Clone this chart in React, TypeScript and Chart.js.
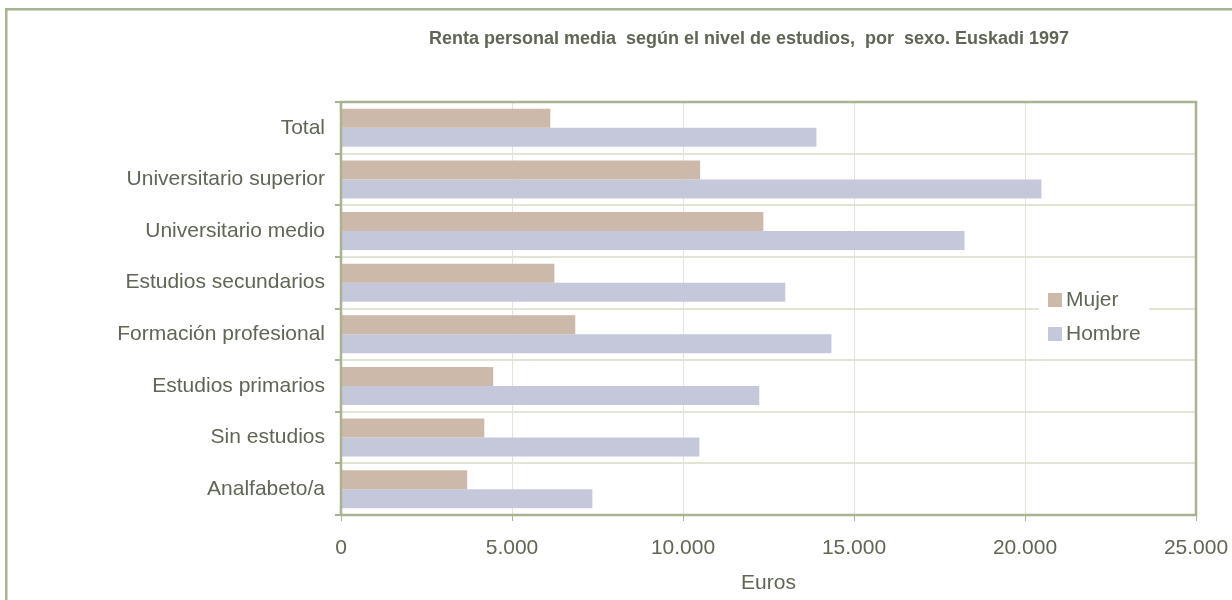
import React, { useEffect, useRef } from 'react';
import { Chart, registerables } from 'chart.js';

Chart.register(...registerables);

const title = 'Renta personal media  según el nivel de estudios,  por  sexo. Euskadi 1997';
const axisTitle = 'Euros';
const categories = [
  'Total',
  'Universitario superior',
  'Universitario medio',
  'Estudios secundarios',
  'Formación profesional',
  'Estudios primarios',
  'Sin estudios',
  'Analfabeto/a',
];
const seriesNames = ['Mujer', 'Hombre'];
const mujer = [6120, 10500, 12350, 6240, 6850, 4450, 4190, 3690];
const hombre = [13900, 20480, 18230, 12990, 14340, 12230, 10480, 7350];
const xMin = 0;
const xMax = 25000;
const xStep = 5000;

const COLORS = ['#cdb9aa', '#c5c8db'];
const TEXT = '#5f6655';
const GREEN = '#a8b38f';
const GRID = '#e2e4d6';
const FONT = '"Liberation Sans", Arial, sans-serif';

const fmt = (v: number) => String(v).replace(/\B(?=(\d{3})+(?!\d))/g, '.');

const decor = {
  id: 'decor',
  beforeDraw(chart: any) {
    const ctx = chart.ctx;
    ctx.save();
    ctx.fillStyle = '#ffffff';
    ctx.fillRect(0, 0, chart.width, chart.height);
    ctx.fillStyle = GREEN;
    ctx.fillRect(5, 8, 2.5, chart.height - 8);
    ctx.fillRect(5, 8, 1300, 2.5);
    ctx.fillStyle = TEXT;
    ctx.font = `bold 18px ${FONT}`;
    ctx.textAlign = 'center';
    ctx.textBaseline = 'middle';
    ctx.fillText(title, 749, 39);
    ctx.restore();
  },
  afterDraw(chart: any) {
    const ctx = chart.ctx;
    const { left, right, top, bottom } = chart.chartArea;
    ctx.save();
    ctx.strokeStyle = GREEN;
    ctx.lineWidth = 2.5;
    ctx.strokeRect(left, top, right - left, bottom - top);
    // legend
    ctx.fillStyle = '#ffffff';
    ctx.fillRect(1039, 284, 110, 62);
    ctx.font = `21px ${FONT}`;
    ctx.textAlign = 'left';
    ctx.textBaseline = 'middle';
    const ys = [300, 334];
    seriesNames.forEach((n, i) => {
      ctx.fillStyle = COLORS[i];
      ctx.fillRect(1048, ys[i] - 7, 14, 14);
      ctx.fillStyle = TEXT;
      ctx.fillText(n, 1066, ys[i]);
    });
    ctx.fillStyle = '#ffffff';
    ctx.fillRect(1229, 12, 3, chart.height - 12);
    ctx.restore();
  },
};

export default function App() {
  const ref = useRef<HTMLCanvasElement>(null);
  useEffect(() => {
    if (!ref.current) return;
    const chart = new Chart(ref.current, {
      type: 'bar',
      data: {
        labels: categories,
        datasets: [
          { label: seriesNames[0], data: mujer, backgroundColor: COLORS[0], borderWidth: 0 },
          { label: seriesNames[1], data: hombre, backgroundColor: COLORS[1], borderWidth: 0 },
        ],
      },
      options: {
        indexAxis: 'y',
        animation: false,
        responsive: false,
        events: [],
        layout: { padding: { left: 0, top: 102, right: 36, bottom: 0 } },
        datasets: { bar: { categoryPercentage: 0.734, barPercentage: 1 } },
        plugins: { legend: { display: false }, title: { display: false }, tooltip: { enabled: false } },
        scales: {
          x: {
            type: 'linear',
            min: xMin,
            max: xMax,
            afterFit: (s: any) => { s.height = 85; s.paddingRight = 0; s.paddingLeft = 0; },
            ticks: {
              stepSize: xStep,
              color: TEXT,
              font: { family: FONT, size: 21 },
              padding: 15,
              callback: (v: any) => fmt(Number(v)),
            },
            grid: { color: GRID, lineWidth: 1, tickColor: GREEN, tickLength: 6, drawTicks: true },
            border: { display: false },
            title: {
              display: true,
              text: axisTitle,
              color: TEXT,
              font: { family: FONT, size: 21 },
              padding: { top: 0, bottom: 4 },
            },
          },
          y: {
            type: 'category',
            afterFit: (s: any) => { s.width = 341; },
            ticks: { color: TEXT, font: { family: FONT, size: 21 }, padding: 10 },
            grid: { color: GRID, lineWidth: 2, tickColor: GREEN, tickLength: 6, offset: true },
            border: { display: false },
          },
        },
      },
      plugins: [decor],
    });
    return () => chart.destroy();
  }, []);
  return (
    <div style={{ position: 'fixed', left: 0, top: 0, width: 1232, height: 600, overflow: 'hidden', background: '#fff' }}>
      <canvas ref={ref} width={1232} height={600} style={{ display: 'block' }} />
    </div>
  );
}
